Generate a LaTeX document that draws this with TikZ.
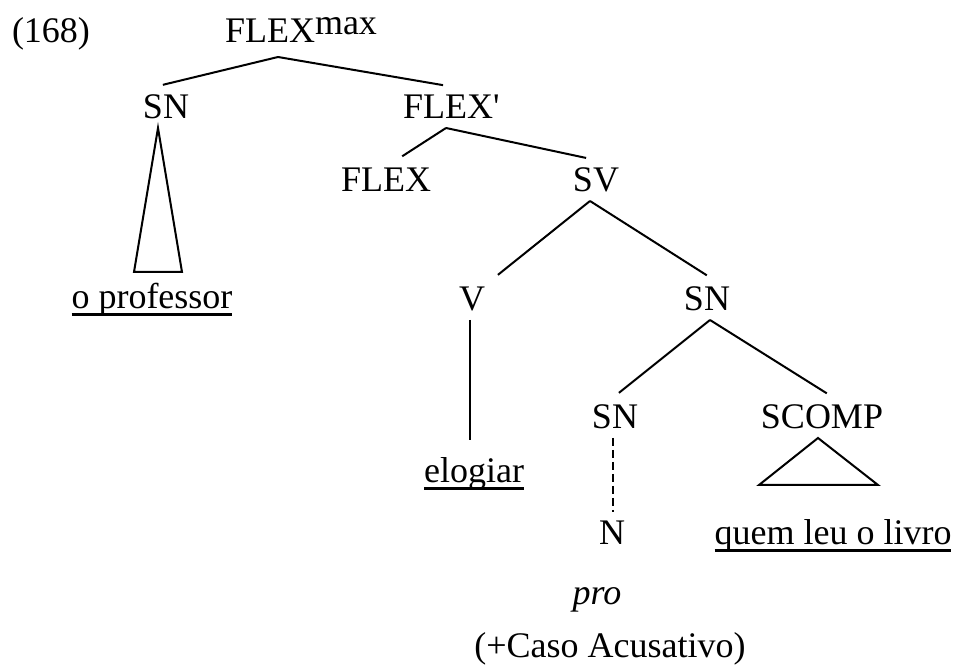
\documentclass[tikz,border=0pt]{standalone}
\usepackage{fontspec}
\setmainfont{Liberation Serif}
\newfontfamily\plainfont{Liberation Serif}
\newcommand\ulword[1]{\setbox0\hbox{#1}\rlap{\rule[-3.4pt]{\wd0}{1.3pt}}\box0}

\begin{document}
\begin{tikzpicture}[x=0.5pt,y=-0.5pt,font=\fontsize{18pt}{21pt}\selectfont,
    cat/.style={inner sep=0pt,outer ysep=4.5pt,text height=12pt,text depth=0pt,anchor=base},
    leaf/.style={cat,outer ysep=9.5pt},
    plain/.style={inner sep=0pt,anchor=base},
    br/.style={line width=1pt,shorten >=2.5pt}]
  \useasboundingbox (0,0) rectangle (959,667);
  \node[plain] (ex) at (51,43) {(168)};
  \node[cat,outer ysep=7pt] (flexmax) at (270,43) {FLEX\rlap{\raisebox{4pt}{max}}};
  \node[cat] (sn1) at (166,119) {SN};
  \node[cat] (flexbar) at (448,119) {FLEX\rlap{\plainfont'}};
  \node[cat] (flex) at (386,192) {FLEX};
  \node[cat] (sv) at (596,192) {SV};
  \node[cat] (v) at (472,311) {V};
  \node[cat] (sn2) at (707,311) {SN};
  \node[cat] (sn3) at (615,429) {SN};
  \node[cat] (scomp) at (822,429) {SCOMP};
  \node[cat] (n) at (612,545) {N};
  \node[plain] (oprof) at (152,309) {\ulword{o professor}};
  \node[leaf] (elogiar) at (474,483) {\ulword{elogiar}};
  \node[plain] (quem) at (833,545) {\ulword{quem leu o livro}};
  \node[plain] (pro) at (597,605) {\textit{pro}};
  \node[plain] (caso) at (610,658) {(+Caso Acusativo)};
  % branches: parent/shift/child/shift
  \foreach \p/\ps/\c/\cs in {flexmax/4/sn1/-4,flexmax/4/flexbar/0,flexbar/-1/flex/6,flexbar/-1/sv/-2.5,
      sv/-3/v/11,sv/-3/sn2/2,sn2/1.5/sn3/0,sn2/1.5/scomp/4.5}
    \draw[br] ([xshift=\ps pt]\p.south) -- ([xshift=\cs pt]\c.north);
  \draw[line width=1pt] ([xshift=-1pt]v.south) -- ([xshift=-1pt]v.south |- elogiar.north);
  \draw[line width=0.8pt,dash pattern=on 4pt off 2pt] ([xshift=-1pt]sn3.south) -- ([xshift=-1pt]sn3.south |- n.north);
  % roofs
  \draw[line width=1pt] ([xshift=-4pt]sn1.south) -- ++(-24,144) -- ++(48,0) -- cycle;
  \draw[line width=1pt] ([xshift=-2pt]scomp.south) -- ++(-59,47) -- ++(119,0) -- cycle;
\end{tikzpicture}
\end{document}
